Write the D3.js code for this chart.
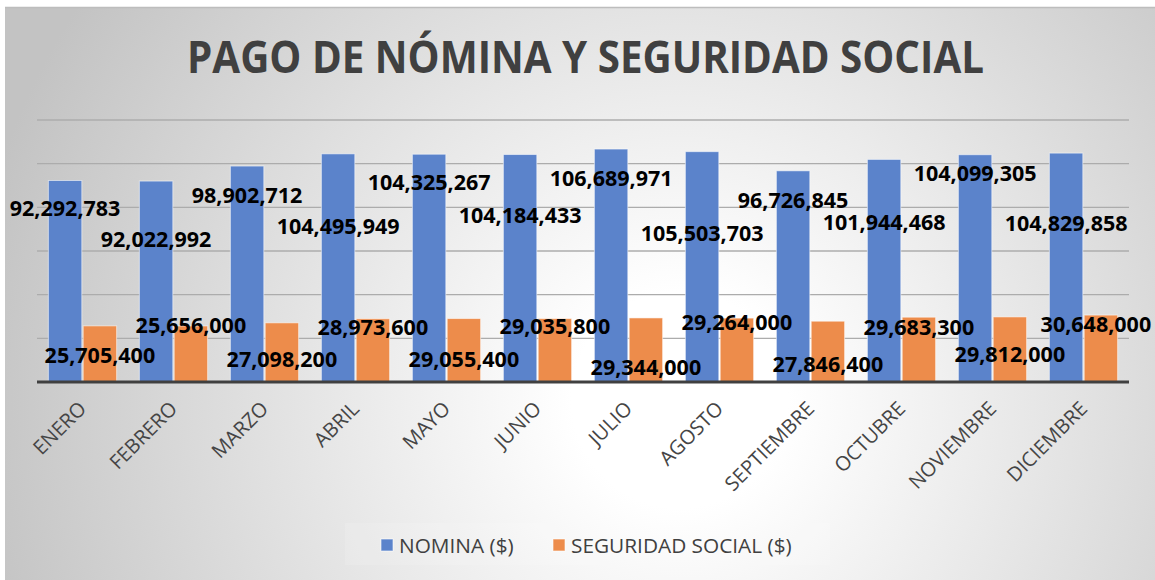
<!DOCTYPE html>
<html>
<head>
<meta charset="utf-8">
<script src="https://cdn.jsdelivr.net/npm/d3@7"></script>
<style>
  html, body { margin: 0; padding: 0; background: #fff; }
  svg { display: block; }
</style>
</head>
<body>
<div id="chart"></div>
<script>
// Chart data
var months = ["ENERO", "FEBRERO", "MARZO", "ABRIL", "MAYO", "JUNIO", "JULIO",
              "AGOSTO", "SEPTIEMBRE", "OCTUBRE", "NOVIEMBRE", "DICIEMBRE"];
var nomina = [92292783, 92022992, 98902712, 104495949, 104325267, 104184433,
              106689971, 105503703, 96726845, 101944468, 104099305, 104829858];
var seguridad = [25705400, 25656000, 27098200, 28973600, 29055400, 29035800,
                 29344000, 29264000, 27846400, 29683300, 29812000, 30648000];
var seriesNames = ["NOMINA ($)", "SEGURIDAD SOCIAL ($)"];
var yTicks = [0, 20000000, 40000000, 60000000, 80000000, 100000000, 120000000];

// The data labels were dragged around by hand in the original chart,
// so we keep a nudge (px below the bar top) for each one
var nominaLabelDy = [36, 66, 37, 80, 36, 68, 37, 89, 37, 71, 26, 78];
var seguridadLabelDy = [37, 7, 44, 16, 48, 15, 57, 12, 51, 18, 45, 17];

var colors = ["#5b83cb", "#ed8c4b"];

var W = 1155, H = 580;
var plot = { left: 37, right: 1129, top: 120, bottom: 382 };

var svg = d3.select("#chart")
  .append("svg")
    .attr("width", W)
    .attr("height", H);

// Background: grey radial gradient, white in the middle (Excel style)
var defs = svg.append("defs");
var grad = defs.append("radialGradient")
    .attr("id", "bg")
    .attr("gradientUnits", "userSpaceOnUse")
    .attr("cx", 680).attr("cy", 400).attr("r", 720);
grad.append("stop").attr("offset", 0).attr("stop-color", "#ffffff");
grad.append("stop").attr("offset", 0.15).attr("stop-color", "#ffffff");
grad.append("stop").attr("offset", 1).attr("stop-color", "#c3c3c3");

svg.append("rect")
    .attr("x", 5).attr("y", 7)
    .attr("width", W - 5).attr("height", H - 7)
    .attr("fill", "url(#bg)");
svg.append("line")
    .attr("x1", 5).attr("x2", W).attr("y1", 7.5).attr("y2", 7.5)
    .attr("stroke", "#bdbdbd").attr("stroke-width", 1.5);

// Title
svg.append("text")
    .attr("x", 585.5).attr("y", 73)
    .attr("text-anchor", "middle")
    .attr("textLength", 797)
    .attr("lengthAdjust", "spacingAndGlyphs")
    .style("font-family", "'Open Sans', sans-serif")
    .style("font-weight", "bold")
    .style("font-size", "44px")
    .style("fill", "#404040")
    .text("PAGO DE NÓMINA Y SEGURIDAD SOCIAL");

// Scales
var x0 = d3.scaleBand()
    .domain(months)
    .range([plot.left, plot.right])
    .paddingInner(0.25)
    .paddingOuter(0.125);

var x1 = d3.scaleBand()
    .domain([0, 1])
    .range([0, x0.bandwidth()])
    .paddingInner(0.04);

var y = d3.scaleLinear()
    .domain([0, 120000000])
    .range([plot.bottom, plot.top]);

// Gridlines
svg.append("g")
  .selectAll("line")
  .data(yTicks.slice(1))
  .enter()
  .append("line")
    .attr("x1", plot.left).attr("x2", plot.right)
    .attr("y1", d => y(d)).attr("y2", d => y(d))
    .style("stroke", "#acacac")
    .style("stroke-width", 1.3);

// One item per bar: month, series index, value, label nudge
var items = [];
months.forEach(function(m, i) {
  items.push({ month: m, k: 0, v: nomina[i], dy: nominaLabelDy[i] });
  items.push({ month: m, k: 1, v: seguridad[i], dy: seguridadLabelDy[i] });
});
var barX = d => x0(d.month) + x1(d.k);

// Bars
svg.append("g")
  .selectAll("rect")
  .data(items)
  .enter()
  .append("rect")
    .attr("x", barX)
    .attr("y", d => y(d.v))
    .attr("width", x1.bandwidth())
    .attr("height", d => y(0) - y(d.v))
    .style("fill", d => colors[d.k])
    .style("stroke", "rgba(255,255,255,0.55)")
    .style("stroke-width", 1);

// X axis
var xAxis = svg.append("g")
    .attr("transform", "translate(0," + plot.bottom + ")")
    .call(d3.axisBottom(x0).tickSize(0).tickPadding(0));
xAxis.select(".domain").remove();
xAxis.append("line")
    .attr("x1", plot.left).attr("x2", plot.right)
    .style("stroke", "#404040")
    .style("stroke-width", 3);
xAxis.selectAll(".tick text")
    .attr("text-anchor", "end")
    .attr("dy", 0)
    .attr("transform", "translate(5,28) rotate(-45)")
    .style("font-family", "'Open Sans', sans-serif")
    .style("font-size", "20px")
    .style("fill", "#454545");

// Data labels on top of every bar (centred on the bar, nudged down by hand).
// The last orange label sits a bit to the left so it stays inside the chart.
svg.append("g")
  .selectAll("text")
  .data(items)
  .enter()
  .append("text")
    .attr("x", (d, i) => barX(d) + x1.bandwidth() / 2 - (i === items.length - 1 ? 5 : 0))
    .attr("y", d => y(d.v) + d.dy)
    .attr("text-anchor", "middle")
    .style("font-family", "'Open Sans', sans-serif")
    .style("font-weight", "bold")
    .style("font-size", "21.5px")
    .style("fill", "#000")
    .text(d => d3.format(",")(d.v));

// Legend
var legend = svg.append("g");
legend.append("rect")
    .attr("x", 345).attr("y", 523).attr("width", 485).attr("height", 42)
    .style("fill", "#fff").style("opacity", 0.12);

var legendX = [381, 553];
var item = legend.selectAll("g")
  .data(seriesNames)
  .enter()
  .append("g")
    .attr("transform", (d, i) => "translate(" + legendX[i] + ",539)");
item.append("rect")
    .attr("width", 12).attr("height", 12)
    .style("fill", (d, i) => colors[i])
    .style("stroke", "rgba(255,255,255,0.6)");
item.append("text")
    .attr("x", 18).attr("y", 13.5)
    .style("font-family", "'Open Sans', sans-serif")
    .style("font-size", "20.8px")
    .style("fill", "#404040")
    .text(d => d);
</script>
</body>
</html>
